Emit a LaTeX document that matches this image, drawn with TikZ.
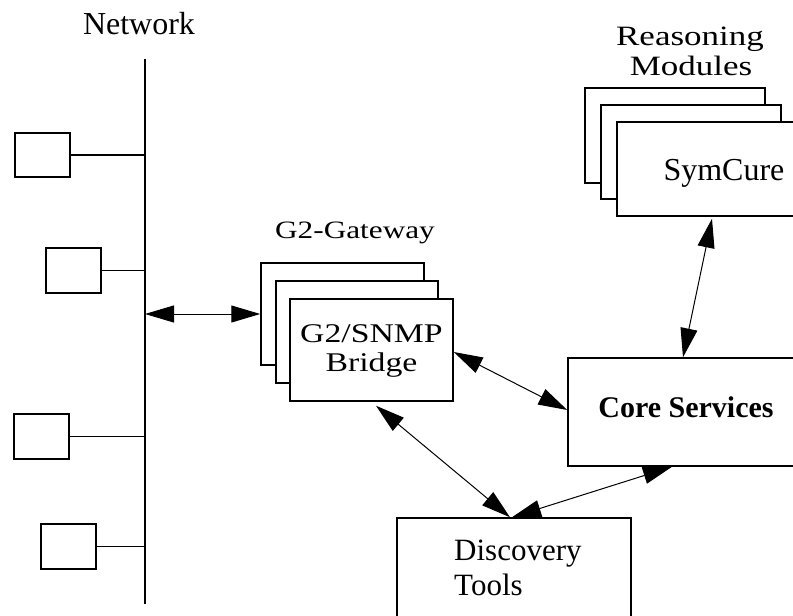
\documentclass[tikz,border=0pt]{standalone}
\usepackage{fontspec}
\setmainfont{Liberation Serif}
\newfontfamily\palwide[FakeStretch=1.25]{Liberation Serif}
\usetikzlibrary{arrows.meta}
\begin{document}
\begin{tikzpicture}[x=1pt,y=-1pt,
  box/.style={draw,line width=1.5pt,fill=white,inner sep=0pt},
  host/.style={box,minimum width=55pt,minimum height=45pt},
  stub/.style={line width=1.3pt},
  bus/.style={line width=2pt},
  link/.style={line width=1pt,{Triangle[length=29pt,width=17pt]}-{Triangle[length=29pt,width=17pt]}},
  lbl/.style={inner sep=0pt,anchor=base}]
\useasboundingbox (0,0) rectangle (793,616);
% network bus
\coordinate (nettop) at (145,59);
\coordinate (netbot) at (145,604);
\draw[bus] (nettop) -- (netbot);
\node[lbl,font=\fontsize{32}{38}\selectfont] (netlbl) at (139,34) {Network};
% hosts
\node[host,minimum height=44pt] (h1) at (42.5,155) {};
\node[host] (h2) at (73.5,270.5) {};
\node[host] (h3) at (41.5,436.5) {};
\node[host] (h4) at (68.5,546.5) {};
\foreach \h in {h1,h2,h3,h4} \draw[stub] (\h.east) -- (\h.east -| nettop);
% gateway stack
\node[box,minimum width=163pt,minimum height=102pt] (gwback) at (342.5,314) {};
\node[box,minimum width=162pt,minimum height=102pt] (gwmid) at (357,332) {};
\node[box,minimum width=163pt,minimum height=102pt] (gwfront) at (371.5,350) {};
\node[lbl,font=\palwide\fontsize{25}{30}\selectfont] (gwlbl) at (355,238) {G2-Gateway};
\node[inner sep=0pt,align=center,font=\palwide\fontsize{27}{29}\selectfont] (gwtxt) at (371.5,351) {G2/SNMP\\Bridge};
% reasoning stack
\node[box,minimum width=180pt,minimum height=95pt] (rmback) at (675,135.5) {};
\node[box,minimum width=180pt,minimum height=94pt] (rmmid) at (691,152) {};
\node[box,minimum width=200pt,minimum height=94pt] (rmfront) at (717,169) {};
\node[lbl,font=\palwide\fontsize{28}{32}\selectfont] (rml1) at (690,45) {Reasoning};
\node[lbl,font=\palwide\fontsize{28}{32}\selectfont] (rml2) at (691,75) {Modules};
\node[lbl,font=\fontsize{32}{36}\selectfont] (symtxt) at (724,180) {SymCure};
% core services
\node[box,minimum width=252pt,minimum height=108pt] (core) at (694,412) {};
\node[lbl,font=\bfseries\fontsize{30}{34}\selectfont] (coretxt) at (686,417) {Core Services};
% discovery tools
\node[box,minimum width=234pt,minimum height=132pt] (disc) at (514,584) {};
\node[lbl,anchor=base west,font=\fontsize{31}{35}\selectfont] (disct1) at (454,560) {Discovery};
\node[lbl,anchor=base west,font=\fontsize{31}{35}\selectfont] (disct2) at (454,595) {Tools};
% connectors
\coordinate (netport) at (145,314);
\draw[link] (netport) -- (gwback.west);
\draw[link] ([yshift=-2pt]gwfront.east) -- ([yshift=2pt]core.west);
\draw[link] ([xshift=4.5pt,yshift=-4pt]gwfront.south) -- ([xshift=-4pt]disc.north);
\draw[link] ([xshift=-22pt]core.south) -- ([xshift=-2pt]disc.north);
\draw[link] ([xshift=-5pt,yshift=-2pt]rmfront.south) -- ([xshift=-11pt]core.north);
\end{tikzpicture}
\end{document}
